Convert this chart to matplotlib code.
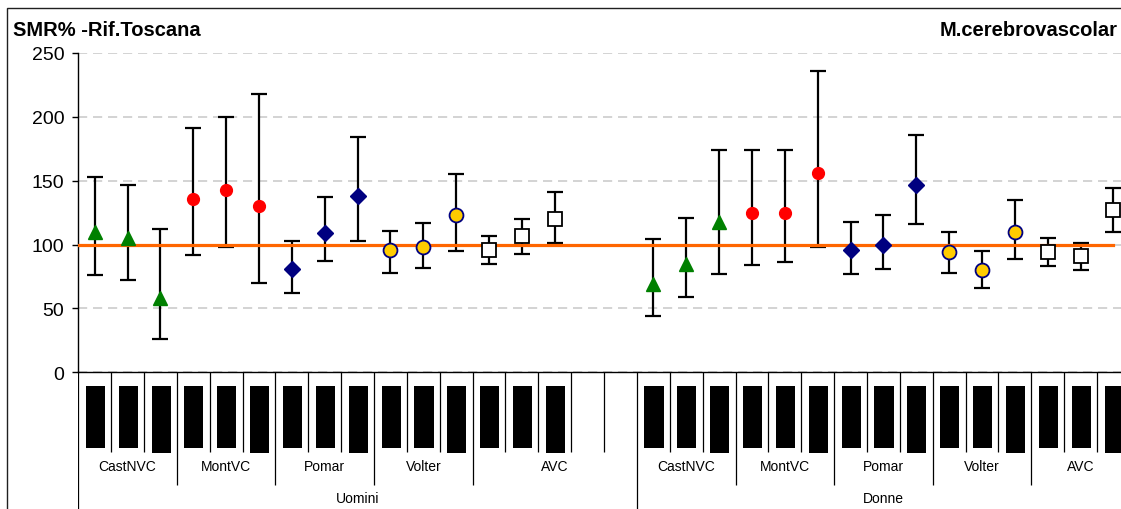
import numpy as np
import matplotlib.pyplot as plt
from matplotlib.patches import Rectangle

plt.rcParams['font.family'] = ['Liberation Sans', 'DejaVu Sans']

# data: 3 values per area, Uomini then Donne
areas = ['CastNVC', 'MontVC', 'Pomar', 'Volter', 'AVC']
sexes = ['Uomini', 'Donne']

uomini_smr = [110, 105, 58, 136, 143, 130, 81, 109, 138, 96, 98, 123, 96, 107, 120]
uomini_lo = [76, 72, 26, 92, 98, 70, 62, 87, 103, 78, 82, 95, 85, 93, 101]
uomini_hi = [153, 147, 112, 191, 200, 218, 103, 137, 184, 111, 117, 155, 107, 120, 141]

donne_smr = [69, 85, 118, 125, 125, 156, 96, 100, 147, 94, 80, 110, 94, 91, 127]
donne_lo = [44, 59, 77, 84, 86, 98, 77, 81, 116, 78, 66, 89, 83, 80, 110]
donne_hi = [104, 121, 174, 174, 174, 236, 118, 123, 186, 110, 95, 135, 105, 101, 144]

ref_value = 100
yticks = [0, 50, 100, 150, 200, 250]

# marker style per area
styles = {
    'CastNVC': dict(marker='^', ms=9.5, mfc='#008000', mec='#008000'),
    'MontVC': dict(marker='o', ms=8.5, mfc='#ff0000', mec='#ff0000'),
    'Pomar': dict(marker='D', ms=7.8, mfc='#000080', mec='#000080'),
    'Volter': dict(marker='o', ms=10, mfc='#ffcc00', mec='#000080', mew=1.3),
    'AVC': dict(marker='s', ms=9.5, mfc='white', mec='black', mew=1.3),
}

n_per = 3
slots_per_sex = [len(areas) * n_per + 2, len(areas) * n_per]  # 2 empty slots after Uomini
n_slots = sum(slots_per_sex)

W, H = 1121, 510
fig = plt.figure(figsize=(W / 100, H / 100), dpi=100)
left = 78.3 / W
bottom = 1 - 373.3 / H
top = 1 - 54 / H
width = n_slots * 32.86 / W
ax = fig.add_axes([left, bottom, width, top - bottom])

sex_data = [(uomini_smr, uomini_lo, uomini_hi), (donne_smr, donne_lo, donne_hi)]
start = 0
last_x = 0
for s, (smr, lo, hi) in enumerate(sex_data):
    for a, area in enumerate(areas):
        idx = slice(a * n_per, (a + 1) * n_per)
        x = start + np.arange(a * n_per, (a + 1) * n_per)
        v = np.array(smr[idx])
        err = [v - np.array(lo[idx]), np.array(hi[idx]) - v]
        ax.errorbar(x, v, yerr=err, fmt='none', ecolor='black', elinewidth=1.6,
                    capsize=5.5, capthick=1.6, zorder=2)
        ax.plot(x, v, ls='none', zorder=4, **styles[area])
        last_x = x[-1]
    start += slots_per_sex[s]

ax.set_xlim(-0.5, n_slots - 0.5)
ax.set_ylim(0, 250)
ax.plot([-0.5, last_x], [ref_value, ref_value], color='#ff6600', lw=2.3, zorder=3)

ax.set_yticks(yticks)
ax.set_xticks([])
ax.tick_params(axis='y', direction='out', length=4, width=1, pad=6, labelsize=14)
ax.yaxis.grid(True, color='#cccccc', linestyle=(0, (5.5, 3.5)), lw=1.2)
ax.set_axisbelow(True)
for sp in ['top', 'right']:
    ax.spines[sp].set_visible(False)
ax.spines['left'].set_linewidth(1)
ax.spines['bottom'].set_linewidth(1)

# category label area below the axis (y in pixel rows)
cax = fig.add_axes([left, -0.05, width, bottom + 0.05])
cax.set_xlim(-0.5, n_slots - 0.5)
cax.set_ylim(H + 0.05 * H, 373.3)
cax.axis('off')

start = 0
for s, sex in enumerate(sexes):
    cax.vlines(start - 0.5, 373.3, H + 10, color='black', lw=0.9)
    for a, area in enumerate(areas):
        g0 = start + a * n_per
        if a > 0:
            cax.vlines(g0 - 0.5, 373.3, 486, color='black', lw=0.9)
        n_in_group = n_per + (2 if (s == 0 and a == len(areas) - 1) else 0)
        for k in range(n_in_group):
            if k > 0:
                cax.vlines(g0 + k - 0.5, 373.3, 453, color='black', lw=0.9)
            if k < n_per:
                bar_bottom = 453.6 if k == n_per - 1 else 448.6
                cax.add_patch(Rectangle((g0 + k - 0.27, 387), 0.58, bar_bottom - 387,
                                        color='black', lw=0))
        cax.text(g0 + (n_in_group - 1) / 2, 467, area, ha='center', va='center', fontsize=10)
    cax.text(start + (slots_per_sex[s] - 1) / 2, 499, sex, ha='center', va='center', fontsize=10)
    start += slots_per_sex[s]

# titles and outer frame
fig.text(12.7 / W, 1 - 35.7 / H, 'SMR% -Rif.Toscana', fontsize=14.5, fontweight='bold',
         ha='left', va='baseline')
fig.text(1118 / W, 1 - 35.7 / H, 'M.cerebrovascolar', fontsize=14.5, fontweight='bold',
         ha='right', va='baseline')
fig.patches.append(Rectangle((6.7 / W, -0.1), 1.2, 1.1 - 9 / H, transform=fig.transFigure,
                             fill=False, ec='#202020', lw=1))

fig.savefig('out.png', dpi=100)
